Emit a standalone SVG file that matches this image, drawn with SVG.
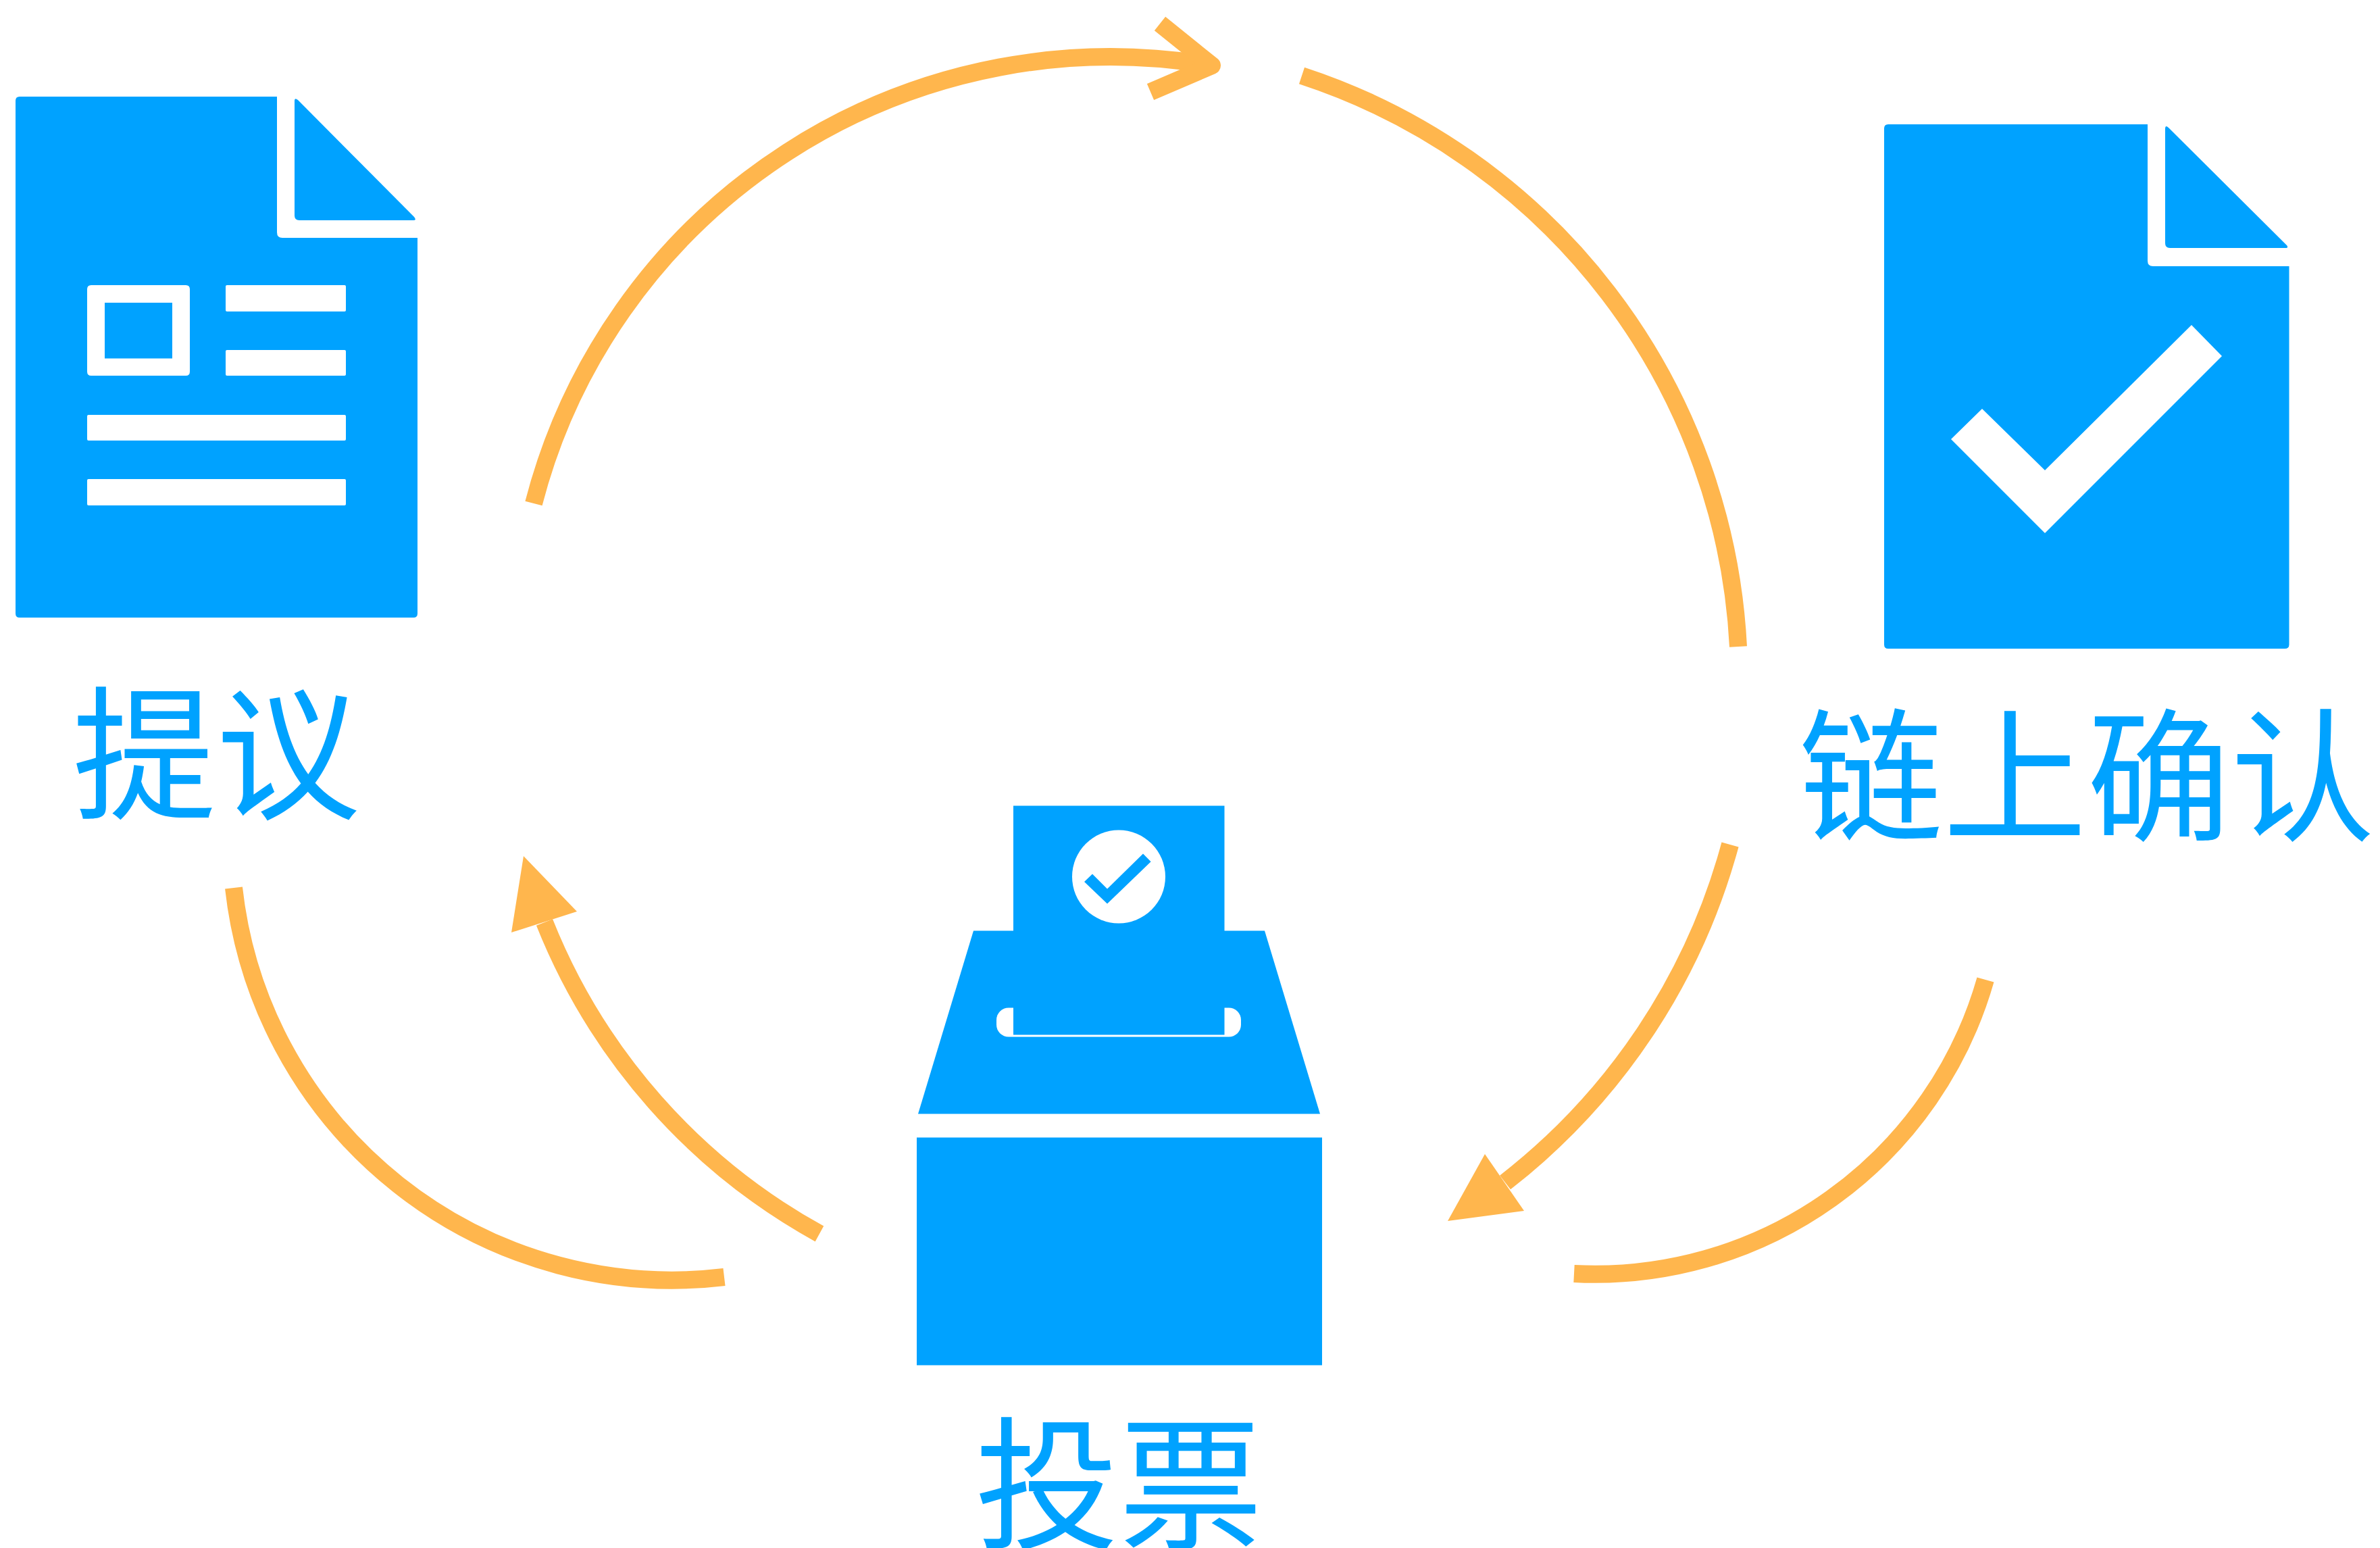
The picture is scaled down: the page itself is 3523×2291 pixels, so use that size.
<svg xmlns="http://www.w3.org/2000/svg" width="3523" height="2291" viewBox="0 0 3523 2291">
<style>
.b{fill:#00A2FF}
.w{fill:#fff}
.c{fill:none;stroke:#FFB64D;stroke-width:26}
.h{fill:#FFB64D}
.t{font-family:"Noto Sans CJK SC","Liberation Sans",sans-serif;font-size:213px;fill:#00A2FF}
</style>
<rect width="3523" height="2291" fill="#fff"/>
<g id="connectors">
<path class="c" d="M790 745A882 882 0 0 1 1794 97"/>
<path class="c" stroke-linejoin="round" d="M1717 35L1794 97L1703 136"/>
<path class="c" d="M1927 112A940 940 0 0 1 2573 957"/>
<path class="c" d="M2561 1250A946 946 0 0 1 2228 1750"/>
<polygon class="h" points="2143,1807 2198,1708 2256,1792"/>
<path class="c" d="M2939 1450A601 601 0 0 1 2330 1885"/>
<path class="c" d="M1213 1826A912 912 0 0 1 806 1365"/>
<polygon class="h" points="775,1267 757,1380 854,1349"/>
<path class="c" d="M346 1314A653 653 0 0 0 1072 1890"/>
</g>
<g id="node-proposal">
<g transform="translate(0 1)">
<path class="b" d="M23 148Q23 142 29 142H410V343Q410 351 418 351H618V907Q618 913 612 913H29Q23 913 23 907Z"/>
<path class="b" d="M436 148Q436 143 441 147L613 320Q617 325 612 325H443Q436 325 436 318Z"/>
<path class="w" fill-rule="evenodd" d="M135 421H275Q281 421 281 427V549Q281 555 275 555H135Q129 555 129 549V427Q129 421 135 421ZM155 447V529.5H255V447Z"/>
<rect class="w" x="334" y="421" width="178" height="39" rx="2"/>
<rect class="w" x="334" y="517" width="178" height="38" rx="2"/>
<rect class="w" x="129" y="613" width="383" height="38" rx="2"/>
<rect class="w" x="129" y="708" width="383" height="39" rx="2"/>
</g>
<text class="t" x="107" y="1195">提议</text>
</g>
<g id="node-vote">
<g transform="translate(0 1.500)">
<polygon class="b" points="1441,1376 1872,1376 1954,1647 1359,1647"/>
<rect class="w" x="1475" y="1490" width="362" height="43" rx="18"/>
<rect class="b" x="1500" y="1191" width="312.500" height="339"/>
<circle class="w" cx="1656" cy="1296" r="69"/>
<polygon class="b" points="1605,1303.500 1617,1292 1639,1314 1692,1262 1703.600,1273.700 1639,1336"/>
<rect class="b" x="1357" y="1682" width="600" height="337"/>
</g>
<text class="t" x="1443" y="2276">投票</text>
</g>
<g id="node-confirm">
<g transform="translate(0 1)">
<path class="b" d="M2789 189Q2789 183 2795 183H3179V385Q3179 393 3187 393H3388.500V953Q3388.500 959 3382 959H2795Q2789 959 2789 953Z"/>
<path class="b" d="M3205 190Q3205 183 3210 188L3385 362Q3388 366 3383 366H3212Q3205 366 3205 359Z"/>
<polygon class="w" points="2888,649 2934,604 3027,695 3244,480 3289,526 3027,788"/>
</g>
<text class="t" x="2663" y="1228">链上确认</text>
</g>
</svg>
